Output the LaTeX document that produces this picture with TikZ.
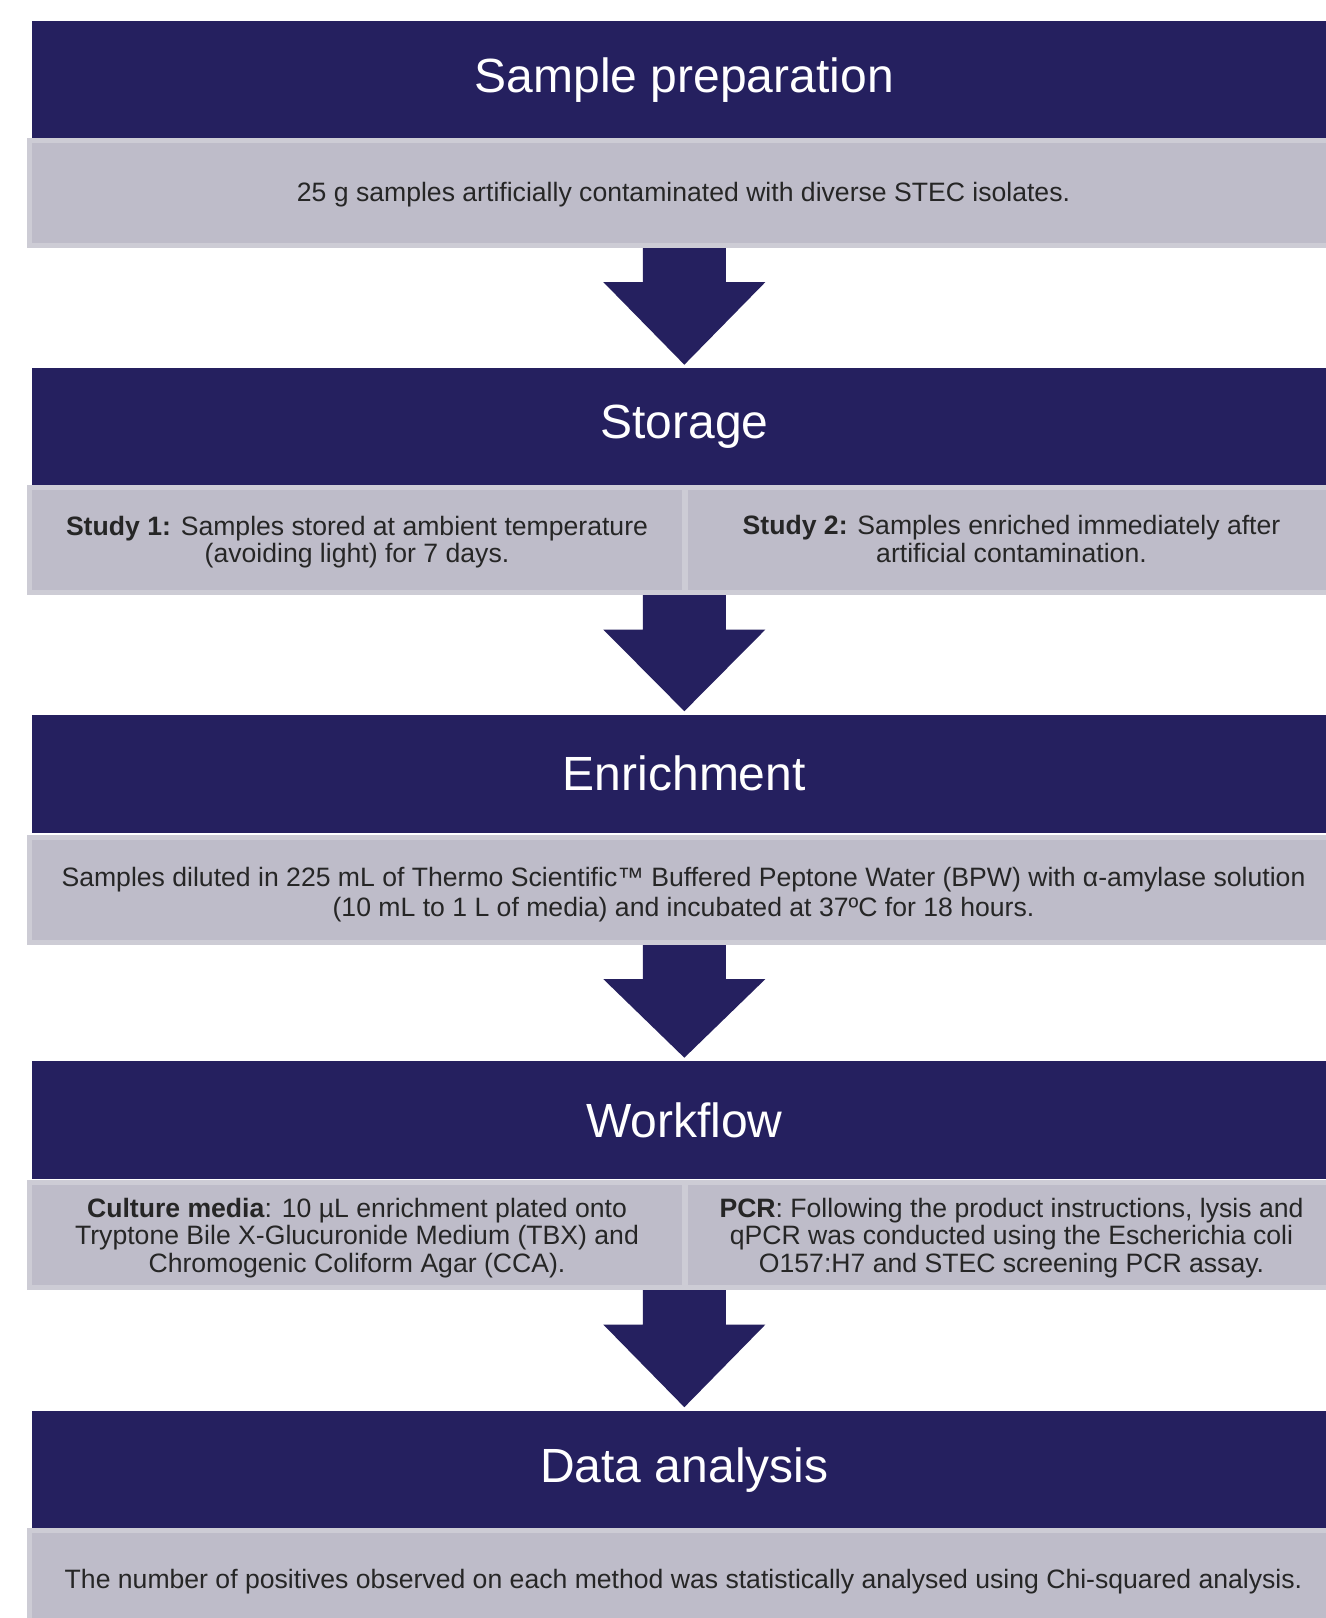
\documentclass[tikz,border=0pt]{standalone}
\usepackage{fontspec}
\setmainfont{Liberation Sans}
\usetikzlibrary{calc,backgrounds}
\pgfdeclarelayer{arrows}
\pgfsetlayers{background,arrows,main}
\definecolor{navy}{HTML}{25205F}
\definecolor{panelfill}{HTML}{BEBCC9}
\definecolor{panelrim}{HTML}{CDCCD5}
\definecolor{ink}{HTML}{262626}
\tikzset{
  header/.style={fill=navy, text=white, inner sep=0pt,
    minimum width=652.6pt, minimum height=59pt,
    font=\fontsize{24}{28}\selectfont},
  panel/.style={fill=panelfill, draw=panelrim, line width=2.5pt,
    inner sep=0pt, minimum height=52.5pt},
  widepanel/.style={panel, minimum width=654pt},
  leftpanel/.style={panel, minimum width=327.5pt},
  rightpanel/.style={panel, minimum width=326pt},
  paneltext/.style={inner sep=0pt, align=center, text=ink,
    font=\fontsize{13.3}{13.8}\selectfont},
}
% block arrow from the bottom of a panel (#1) down to the next header (#2)
\newcommand{\flowarrow}[2]{%
  \fill[navy] ($(#2.north |- #1.south)+(-41.5,-4)$) -- ($(#2.north |- #1.south)+(41.5,-4)$)
    -- ($(#2.north |- #1.south)+(41.5,34.5)$) -- ($(#2.north |- #1.south)+(81,34.5)$)
    -- ($(#2.north)+(0,-3)$)
    -- ($(#2.north |- #1.south)+(-81,34.5)$) -- ($(#2.north |- #1.south)+(-41.5,34.5)$) -- cycle;}
\begin{document}
\begin{tikzpicture}[x=0.5pt, y=-0.5pt]
\useasboundingbox (0,0) rectangle (1326,1618);
\clip (0,0) rectangle (1326,1618);
\begin{pgfonlayer}{background}
  \fill[white] (0,0) rectangle (1326,1618);
\end{pgfonlayer}

% section headers
\node[header] (h1) at (684.35, 79.6)   {Sample preparation};
\node[header] (h2) at (684.35, 427.1)  {Storage};
\node[header] (h3) at (684.35, 773.6)  {Enrichment};
\node[header] (h4) at (684.35, 1120.1) {Workflow};
\node[header] (h5) at (684.35, 1469.6) {Data analysis};

% panels under each header
\node[widepanel]  (g1)  at (683.5, 192.6)  {};
\node[leftpanel]  (g2a) at (357, 540.1)    {};
\node[rightpanel] (g2b) at (1011.5, 540.1) {};
\node[widepanel]  (g3)  at (683.5, 889.6)  {};
\node[leftpanel]  (g4a) at (357, 1235.1)   {};
\node[rightpanel] (g4b) at (1011.5, 1235.1){};
\node[widepanel]  (g5)  at (683.5, 1582.6) {};

% panel texts
\node[paneltext] (t1) at ($(g1.center)+(0,2)$)
  {25 g samples artificially contaminated with diverse STEC isolates.};
\node[paneltext] (t2a) at ($(g2a.center)+(0,2)$)
  {\textbf{Study 1:} Samples stored at ambient temperature\\(avoiding light) for 7 days.};
\node[paneltext] (t2b) at ($(g2b.center)+(0,-1)$)
  {\textbf{Study 2:} Samples enriched immediately after\\artificial contamination.};
\node[paneltext, font=\fontsize{13.3}{15}\selectfont] (t3) at ($(g3.center)+(0,5)$)
  {Samples diluted in 225 mL of Thermo Scientific™ Buffered Peptone Water (BPW) with α-amylase solution\\(10 mL to 1 L of media) and incubated at 37ºC for 18 hours.};
\node[paneltext] (t4a) at ($(g4a.center)+(0,3)$)
  {\textbf{Culture media}: 10 µL enrichment plated onto\\Tryptone Bile X-Glucuronide Medium (TBX) and\\Chromogenic Coliform Agar (CCA).};
\node[paneltext] (t4b) at ($(g4b.center)+(0,3)$)
  {\textbf{PCR}: Following the product instructions, lysis and\\qPCR was conducted using the Escherichia coli\\O157:H7 and STEC screening PCR assay.};
\node[paneltext] (t5) at ($(g5.center)+(0,-1)$)
  {The number of positives observed on each method was statistically analysed using Chi-squared analysis.};

% block arrows between sections, kept beneath the panel rims
\begin{pgfonlayer}{arrows}
  \flowarrow{g1}{h2}
  \flowarrow{g2a}{h3}
  \flowarrow{g3}{h4}
  \flowarrow{g4a}{h5}
\end{pgfonlayer}
\end{tikzpicture}
\end{document}
